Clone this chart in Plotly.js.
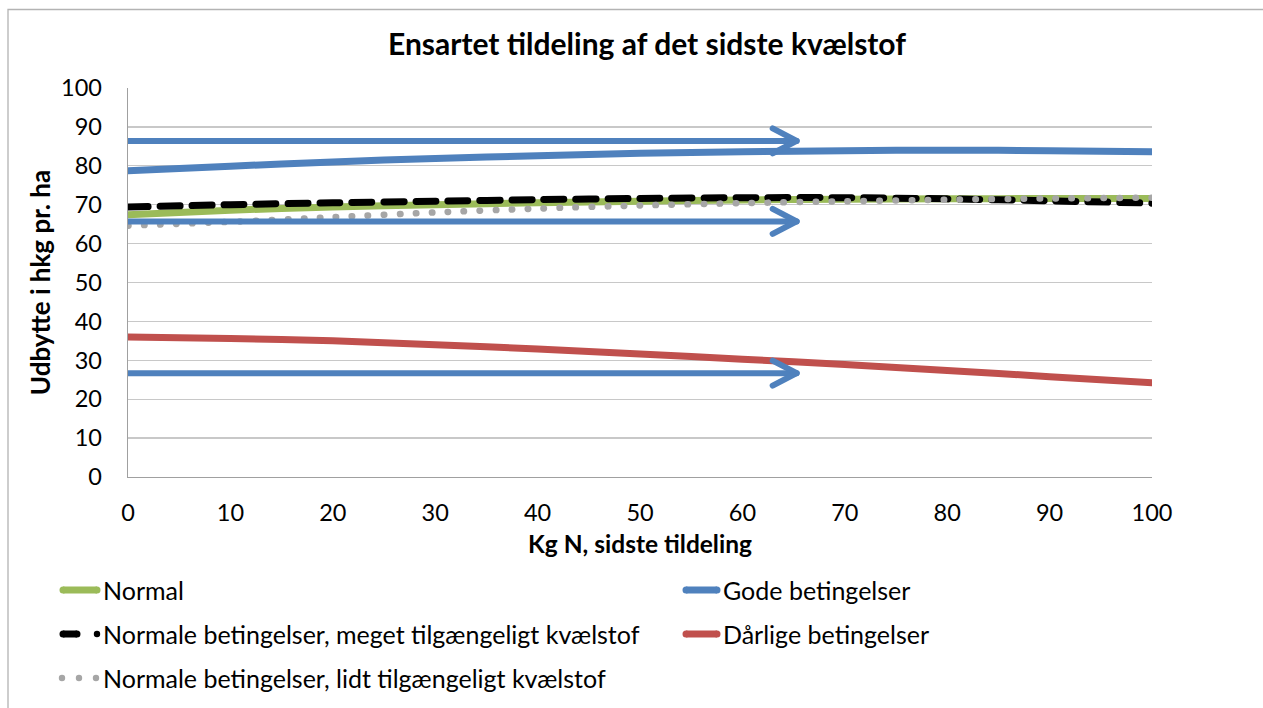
<!DOCTYPE html>
<html>
<head>
<meta charset="utf-8">
<script src="https://cdn.plot.ly/plotly-3.0.1.min.js"></script>
<style>
  body { margin: 0; background: #fff; }
  #chart { width: 1263px; height: 708px; }
  .scatterlayer .js-line { stroke-linecap: round; stroke-linejoin: round; }
</style>
</head>
<body>
<div id="chart"></div>
<script>
// ---- data ----
const kgN = [0, 10, 20, 30, 40, 50, 60, 70, 80, 90, 100];
const normal = [67.4, 68.6, 69.4, 70.0, 70.5, 70.9, 71.2, 71.4, 71.5, 71.6, 71.6];
const gode = [78.7, 79.9, 81.0, 81.9, 82.6, 83.2, 83.6, 83.9, 84.0, 83.9, 83.6];
const megetN = [69.4, 70.0, 70.5, 70.9, 71.3, 71.6, 71.8, 71.8, 71.5, 71.0, 70.4];
const daarlige = [36.0, 35.6, 35.0, 34.0, 32.9, 31.6, 30.3, 28.9, 27.4, 25.8, 24.2];
const lidtN = [64.6, 65.6, 66.8, 68.0, 69.0, 69.8, 70.4, 70.9, 71.3, 71.6, 71.8];
const arrowY = [86.4, 65.7, 26.7];
const arrowStart = 0;
const arrowEnd = 65.3;
const seriesNames = ["Normal", "Gode betingelser", "Normale betingelser, meget tilgængeligt kvælstof", "Dårlige betingelser", "Normale betingelser, lidt tilgængeligt kvælstof"];
const titleText = "Ensartet tildeling af det sidste kvælstof";
const xTitle = "Kg N, sidste tildeling";
const yTitle = "Udbytte i hkg pr. ha";

// ---- style ----
const FONT = "Lato, 'Open Sans', sans-serif";
const W = 1263, H = 708;
const M = {l: 128, r: 111, t: 88, b: 231};
const xRange = [0, 100], yRange = [0, 100];
const plotW = W - M.l - M.r, plotH = H - M.t - M.b;
const pxX = (xRange[1] - xRange[0]) / plotW;
const pxY = (yRange[1] - yRange[0]) / plotH;
const C = {green: "#9bbb59", blue: "#4f81bd", red: "#c0504d", black: "#000000", grey: "#a6a6a6"};

const traces = [];
function series(y, color, width, dash) {
  traces.push({x: kgN, y: y, type: "scatter", mode: "lines", showlegend: false, hoverinfo: "skip",
    line: {color: color, width: width, dash: dash || "solid", shape: "spline", smoothing: 0.8}});
}
series(normal, C.green, 7);
series(gode, C.blue, 7);
series(megetN, C.black, 7, "20px,12px");
series(daarlige, C.red, 7);
series(lidtN, C.grey, 6.5, "0.5px,15.5px");

// arrows
const chevDx = 24 * pxX, chevDy = 12.5 * pxY;
arrowY.forEach(v => {
  traces.push({x: [arrowStart, arrowEnd], y: [v, v], type: "scatter", mode: "lines", showlegend: false, hoverinfo: "skip",
    line: {color: C.blue, width: 6}});
  traces.push({x: [arrowEnd - chevDx, arrowEnd, arrowEnd - chevDx], y: [v + chevDy, v, v - chevDy], type: "scatter", mode: "lines",
    showlegend: false, hoverinfo: "skip", line: {color: C.blue, width: 6}});
});

// manual legend (paper coords)
const px2paperX = p => (p - M.l) / plotW;
const px2paperY = p => (H - M.b - p) / plotH;
const shapes = [];
const annotations = [];
function legLine(x0, x1, y, color, width) {
  shapes.push({type: "line", xref: "paper", yref: "paper", x0: px2paperX(x0), x1: px2paperX(x1), y0: px2paperY(y), y1: px2paperY(y),
    line: {color: color, width: width}});
}
function legDot(x, y, color, r) {
  shapes.push({type: "circle", xref: "paper", yref: "paper", x0: px2paperX(x - r), x1: px2paperX(x + r), y0: px2paperY(y - r), y1: px2paperY(y + r),
    fillcolor: color, line: {width: 0}});
}
function legText(x, y, t) {
  annotations.push({xref: "paper", yref: "paper", x: px2paperX(x), y: px2paperY(y), xanchor: "left", yanchor: "middle",
    text: t, showarrow: false, font: {family: FONT, size: 25, color: "#000"}});
}
const rows = [590, 634, 678];
// Normal
legLine(63, 97, rows[0], C.green, 7); legDot(63, rows[0], C.green, 3.5); legDot(97, rows[0], C.green, 3.5);
legText(101, rows[0], seriesNames[0]);
// Gode
legLine(686, 717, rows[0], C.blue, 7); legDot(686, rows[0], C.blue, 3.5); legDot(717, rows[0], C.blue, 3.5);
legText(721, rows[0], seriesNames[1]);
// meget
legLine(63, 77, rows[1], C.black, 7); legDot(63, rows[1], C.black, 3.5); legDot(77, rows[1], C.black, 3.5);
legDot(97, rows[1], C.black, 3.2);
legText(101, rows[1], seriesNames[2]);
// Dårlige
legLine(686, 717, rows[1], C.red, 7); legDot(686, rows[1], C.red, 3.5); legDot(717, rows[1], C.red, 3.5);
legText(721, rows[1], seriesNames[3]);
// lidt
legDot(62, rows[2], C.grey, 3.2); legDot(79, rows[2], C.grey, 3.2); legDot(96, rows[2], C.grey, 3.2);
legText(101, rows[2], seriesNames[4]);

// chart border (top and left visible)
shapes.push({type: "rect", xref: "paper", yref: "paper", x0: px2paperX(8), x1: px2paperX(1290), y0: px2paperY(740), y1: px2paperY(9.5),
  line: {color: "#b3b3b3", width: 1.3}, fillcolor: "rgba(0,0,0,0)", layer: "below"});

const layout = {
  width: W, height: H,
  margin: M,
  paper_bgcolor: "#ffffff", plot_bgcolor: "#ffffff",
  showlegend: false,
  font: {family: FONT, color: "#000"},
  title: {text: "<b>" + titleText + "</b>", font: {family: FONT, size: 30, color: "#000"},
    xref: "container", yref: "container", x: 647 / W, xanchor: "center", y: 1 - 44 / H, yanchor: "middle"},
  xaxis: {range: xRange, dtick: 10, tick0: 0, showgrid: false, zeroline: false,
    showline: true, linecolor: "#a0a0a0", linewidth: 1.3, ticks: "", ticklabelstandoff: 14,
    tickfont: {family: FONT, size: 23.5, color: "#000"},
    title: {text: "<b>" + xTitle + "</b>", font: {family: FONT, size: 24.5, color: "#000"}, standoff: 11}},
  yaxis: {range: yRange, dtick: 10, tick0: 0, showgrid: true, gridcolor: "#c8c8c8", gridwidth: 1.3, zeroline: false,
    showline: true, linecolor: "#a0a0a0", linewidth: 1.3, ticks: "", ticklabelstandoff: 20,
    tickfont: {family: FONT, size: 23.5, color: "#000"},
    title: {text: "<b>" + yTitle + "</b>", font: {family: FONT, size: 26, color: "#000"}, standoff: 3}},
  shapes: shapes,
  annotations: annotations
};

Plotly.newPlot("chart", traces, layout, {displayModeBar: false, staticPlot: true});
</script>
</body>
</html>
